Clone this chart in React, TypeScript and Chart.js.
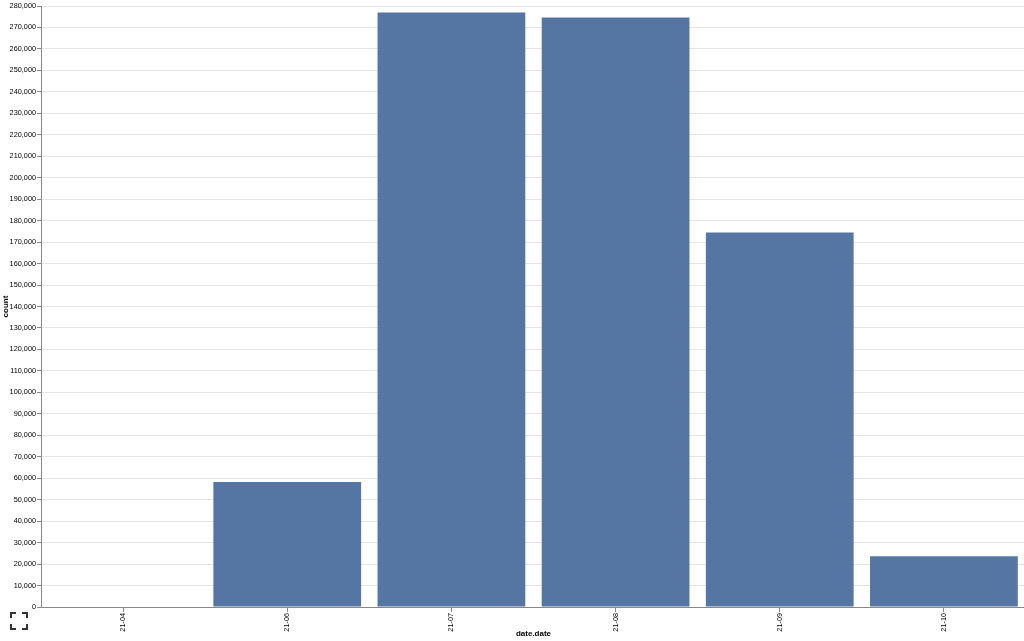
import React, { useEffect, useRef } from "react";
import { Chart, registerables } from "chart.js";

Chart.register(...registerables);

const categories = ["21-04", "21-06", "21-07", "21-08", "21-09", "21-10"];
const counts = [0, 58200, 277000, 274650, 174500, 23600];
const yTickMax = 280000;
const yTickStep = 10000;

const FONT = "'Liberation Sans', Arial, Helvetica, sans-serif";

const fullscreenIcon = {
  id: "fullscreenIcon",
  afterDraw(chart: any) {
    const ctx = chart.ctx;
    ctx.save();
    ctx.strokeStyle = "#333";
    ctx.lineWidth = 2;
    const x0 = 11, y0 = 613, x1 = 27, y1 = 629, l = 5;
    ctx.beginPath();
    ctx.moveTo(x0, y0 + l); ctx.lineTo(x0, y0); ctx.lineTo(x0 + l, y0);
    ctx.moveTo(x1 - l, y0); ctx.lineTo(x1, y0); ctx.lineTo(x1, y0 + l);
    ctx.moveTo(x0, y1 - l); ctx.lineTo(x0, y1); ctx.lineTo(x0 + l, y1);
    ctx.moveTo(x1 - l, y1); ctx.lineTo(x1, y1); ctx.lineTo(x1, y1 - l);
    ctx.stroke();
    ctx.restore();
  },
};

export default function App() {
  const ref = useRef<HTMLCanvasElement>(null);
  useEffect(() => {
    document.body.style.margin = "0";
    const chart = new Chart(ref.current!, {
      type: "bar",
      data: {
        labels: categories,
        datasets: [
          {
            label: "count",
            data: counts,
            backgroundColor: "#5576a2",
            borderWidth: 0,
            barPercentage: 0.9,
            categoryPercentage: 1,
          },
        ],
      },
      plugins: [fullscreenIcon],
      options: {
        responsive: false,
        animation: false,
        layout: { padding: { top: 6, right: 0, left: 0, bottom: 2 } },
        plugins: { legend: { display: false }, tooltip: { enabled: false } },
        scales: {
          x: {
            type: "category",
            offset: true,
            grid: {
              offset: false,
              drawOnChartArea: false,
              drawTicks: true,
              tickLength: 5,
              color: "#888",
            },
            border: { color: "#888", width: 1 },
            ticks: {
              minRotation: 90,
              maxRotation: 90,
              autoSkip: false,
              padding: 1,
              color: "#000",
              font: { family: FONT, size: 7.3 },
            },
            title: {
              display: true,
              text: "date.date",
              color: "#000",
              padding: { top: 0, bottom: 0 },
              font: { family: FONT, size: 8, weight: "bold" },
            },
            afterFit: (s: any) => {
              s.height = 32;
            },
          },
          y: {
            min: 0,
            max: yTickMax,
            ticks: {
              stepSize: yTickStep,
              padding: 1,
              color: "#000",
              font: { family: FONT, size: 7.3 },
            },
            grid: { color: "#e4e4e4", tickColor: "#888", tickLength: 4 },
            border: { color: "#888", width: 1 },
            title: {
              display: true,
              text: "count",
              color: "#000",
              padding: { top: 1, bottom: 0 },
              font: { family: FONT, size: 8, weight: "bold" },
            },
            afterFit: (s: any) => {
              s.width = 41;
            },
          },
        },
      },
    } as any);
    return () => chart.destroy();
  }, []);
  return (
    <div style={{ position: "absolute", left: 0, top: 0, width: 1024, height: 641, overflow: "hidden", background: "#fff" }}>
      <canvas ref={ref} width={1026} height={641} style={{ display: "block" }} />
    </div>
  );
}
